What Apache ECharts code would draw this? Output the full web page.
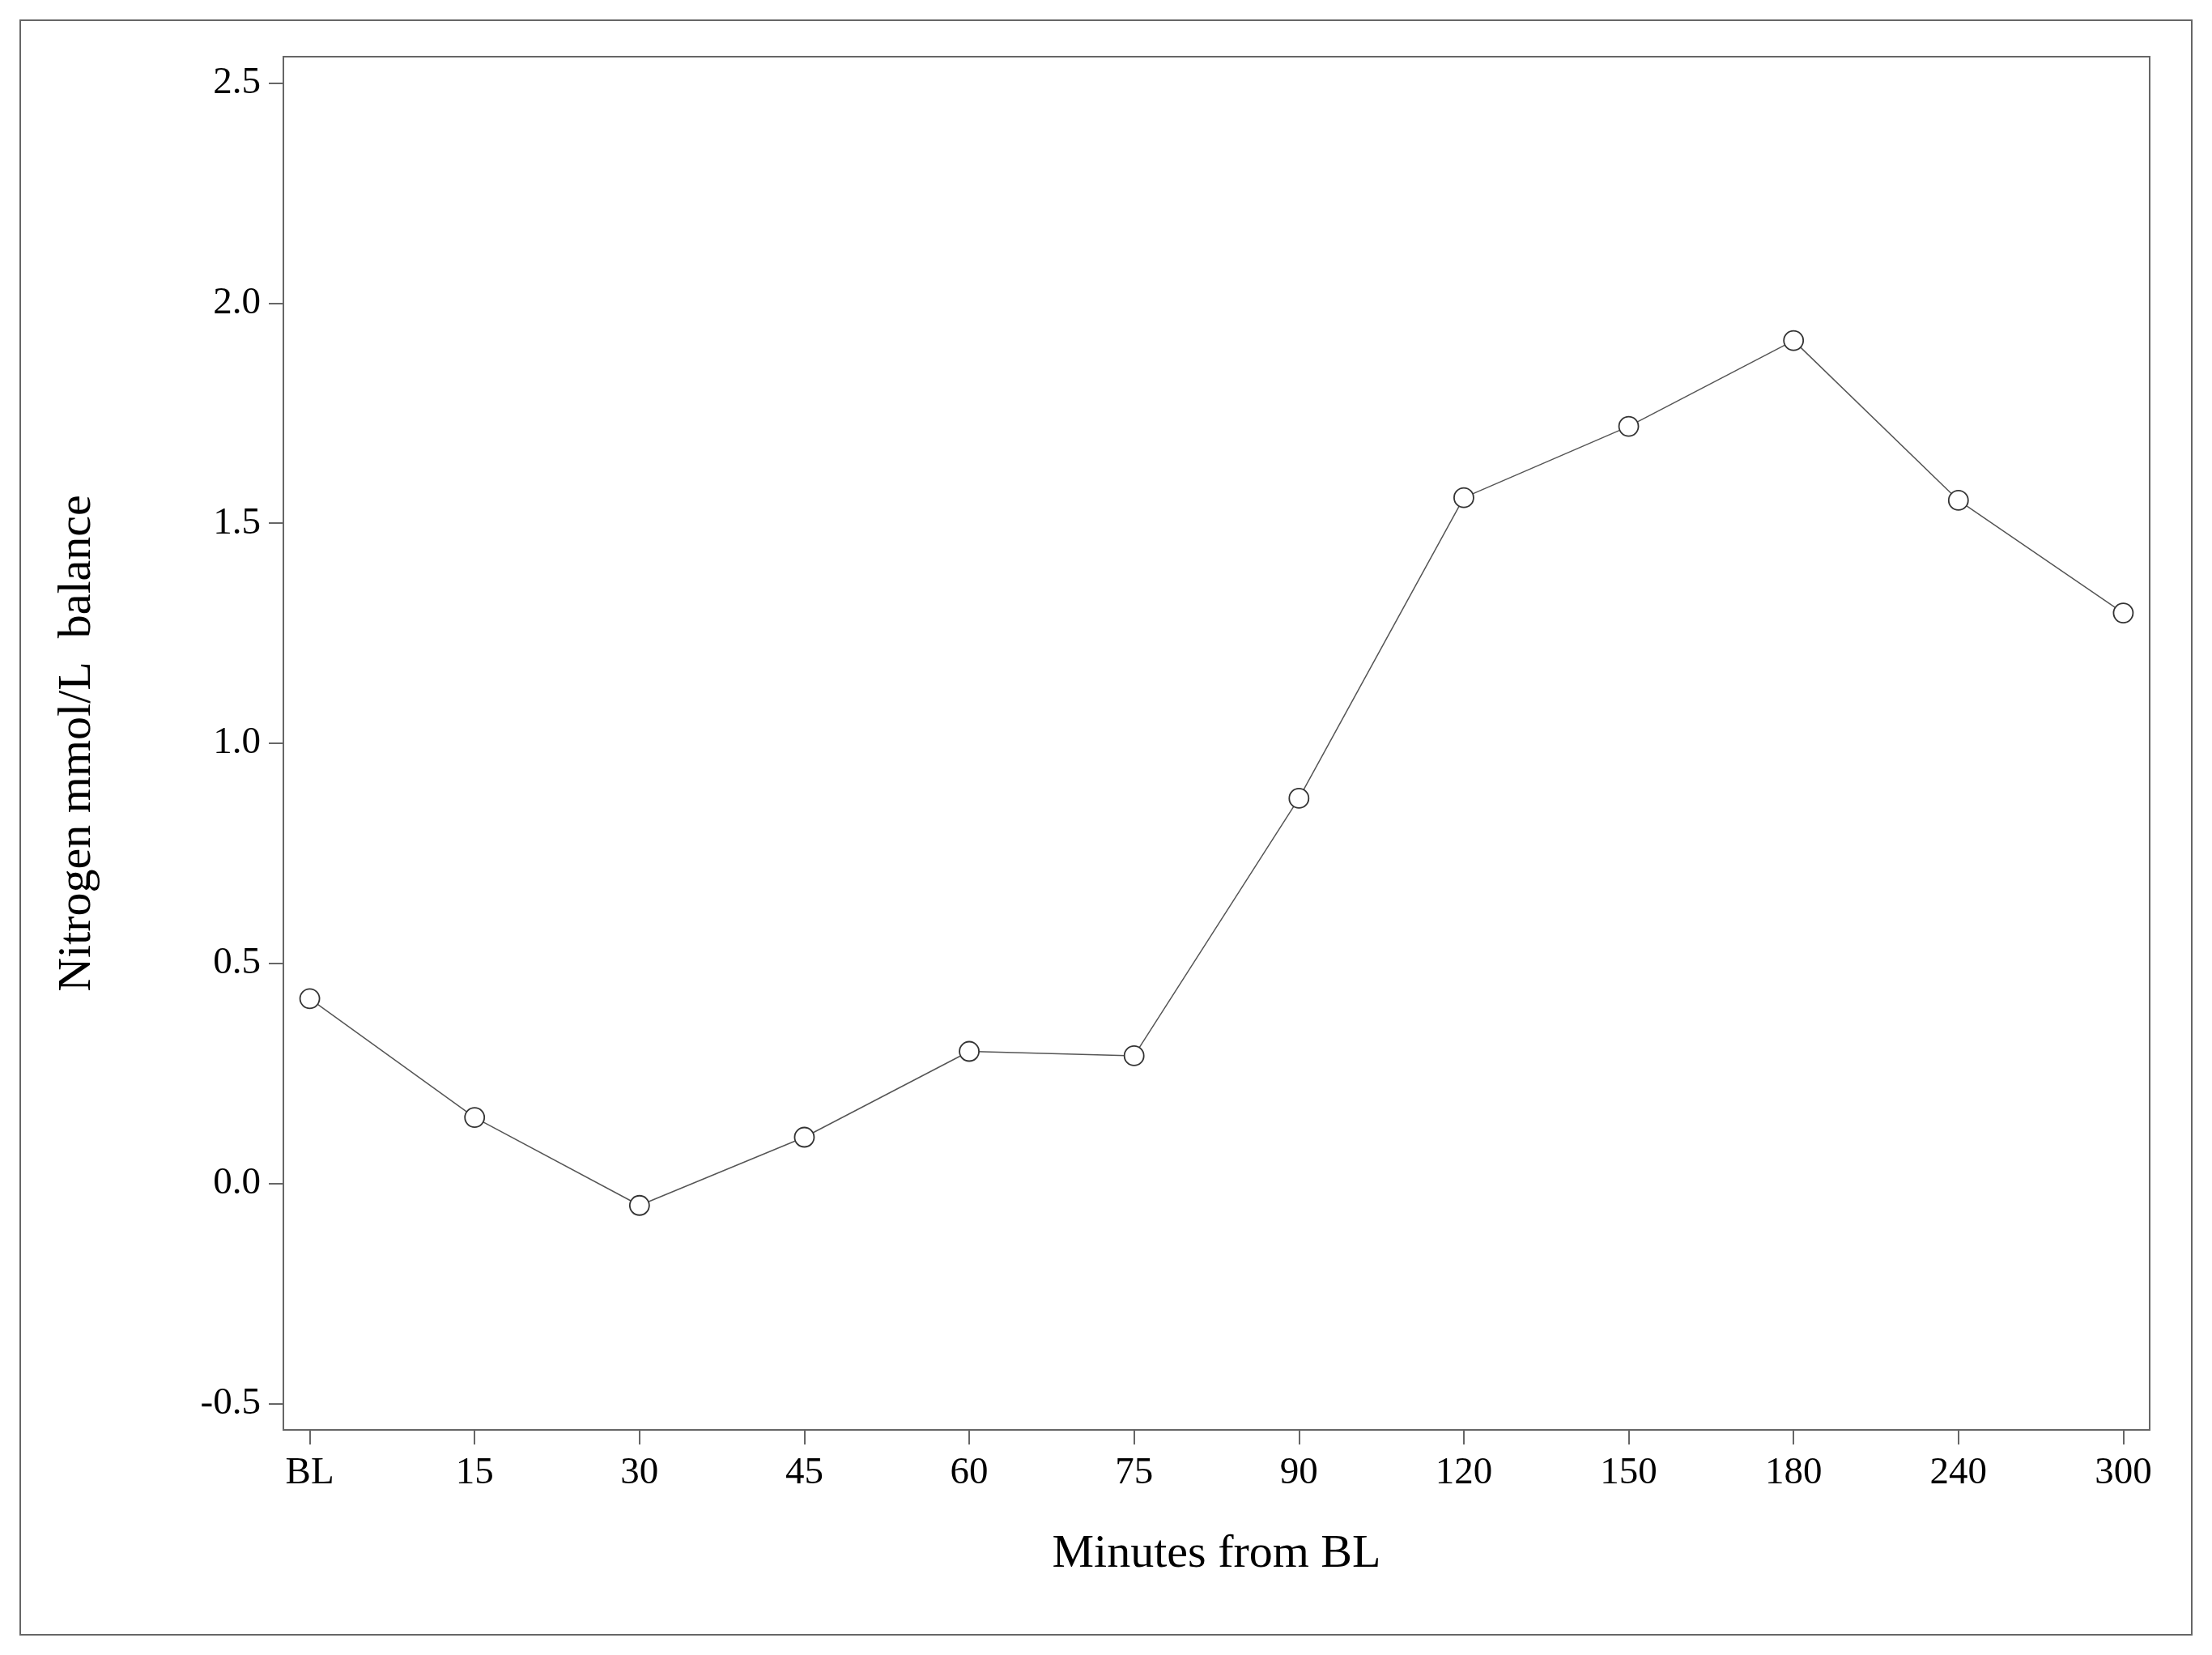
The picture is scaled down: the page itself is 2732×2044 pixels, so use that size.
<!DOCTYPE html>
<html><head><meta charset="utf-8">
<script src="https://cdn.jsdelivr.net/npm/echarts@6/dist/echarts.min.js"></script>
<style>html,body{margin:0;padding:0;background:#fff}#c{width:2732px;height:2044px}</style>
</head><body><div id="c"></div>
<script>
const categories = ['BL','15','30','45','60','75','90','120','150','180','240','300'];
const values = [0.42,0.15,-0.05,0.105,0.30,0.29,0.875,1.558,1.72,1.915,1.552,1.296];
const yTicks = [-0.5,0,0.5,1,1.5,2,2.5];
const idx = categories.map((_, i) => i);
const chart = echarts.init(document.getElementById('c'));
const font = 'Liberation Serif';
chart.setOption({
  animation:false,
  backgroundColor:'#fff',
  graphic:[{type:'rect',shape:{x:25,y:25,width:2682,height:1994},style:{fill:'none',stroke:'#666',lineWidth:2}}],
  grid:{left:350,right:77,top:70,bottom:278,show:true,borderColor:'#666',borderWidth:2,backgroundColor:'transparent'},
  xAxis:{type:'value',min:-0.16,max:11.16,
    name:'Minutes from BL',nameLocation:'middle',nameGap:125,
    nameTextStyle:{fontFamily:font,fontSize:58,color:'#000'},
    axisLine:{show:true,onZero:false,lineStyle:{color:'#666',width:2}},
    axisTick:{show:true,length:18,customValues:idx,lineStyle:{color:'#666',width:2}},
    axisLabel:{customValues:idx,formatter:v=>categories[Math.round(v)],fontFamily:font,fontSize:47,color:'#000',margin:30},
    splitLine:{show:false}},
  yAxis:{type:'value',min:-0.56,max:2.56,
    name:'Nitrogen mmol/L  balance',nameLocation:'middle',nameGap:225,
    nameTextStyle:{fontFamily:font,fontSize:58,color:'#000'},
    axisLine:{show:true,onZero:false,lineStyle:{color:'#666',width:2}},
    axisTick:{show:true,length:18,customValues:yTicks,lineStyle:{color:'#666',width:2}},
    axisLabel:{customValues:yTicks,formatter:v=>v.toFixed(1),fontFamily:font,fontSize:47,color:'#000',margin:28},
    splitLine:{show:false}},
  series:[{type:'line',data:values.map((v,i)=>[i,v]),
    symbol:'circle',symbolSize:24,
    lineStyle:{color:'#555',width:1.5},
    itemStyle:{color:'#fff',borderColor:'#333',borderWidth:1.8}}]
});
</script></body></html>
